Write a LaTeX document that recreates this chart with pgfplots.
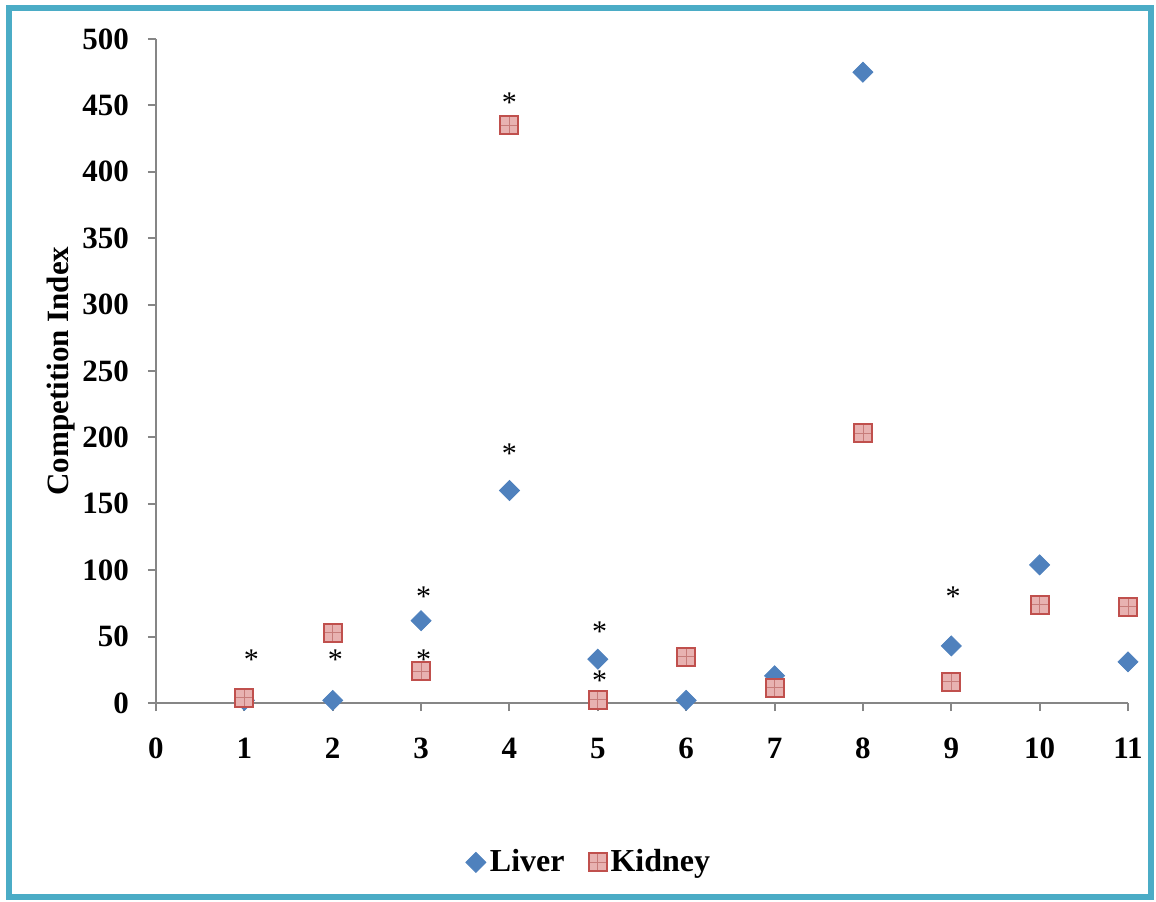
\documentclass[border=0pt]{standalone}
\usepackage{fontspec}
\setmainfont{Liberation Serif}
\usepackage{pgfplots}
\pgfplotsset{compat=1.18}
\definecolor{liver}{HTML}{4F81BD}
\definecolor{kidedge}{HTML}{C0504D}
\definecolor{kidfill}{HTML}{E8B2B1}
\definecolor{kidline}{HTML}{C77C7A}
\definecolor{frame}{HTML}{4BACC6}
\definecolor{axgray}{HTML}{868686}
\pgfdeclareplotmark{kidneysq}{%
  \pgfpathrectangle{\pgfqpoint{-\pgfplotmarksize}{-\pgfplotmarksize}}{\pgfqpoint{2\pgfplotmarksize}{2\pgfplotmarksize}}%
  \pgfusepathqfill
  \pgfsetlinewidth{0.4pt}%
  \pgfsetstrokecolor{kidline}%
  \pgfpathmoveto{\pgfqpoint{0pt}{-\pgfplotmarksize}}\pgfpathlineto{\pgfqpoint{0pt}{\pgfplotmarksize}}%
  \pgfpathmoveto{\pgfqpoint{-\pgfplotmarksize}{0pt}}\pgfpathlineto{\pgfqpoint{\pgfplotmarksize}{0pt}}%
  \pgfusepathqstroke
  \pgfsetlinewidth{1pt}%
  \pgfsetstrokecolor{kidedge}%
  \pgfpathrectangle{\pgfqpoint{-\pgfplotmarksize}{-\pgfplotmarksize}}{\pgfqpoint{2\pgfplotmarksize}{2\pgfplotmarksize}}%
  \pgfusepathqstroke
}
\begin{document}
\begin{tikzpicture}
\useasboundingbox (-78pt,-99pt) rectangle (500pt,351.5pt);
\draw[frame, line width=3pt] (-73.5pt,-97pt) rectangle (497.5pt,347.5pt);
\begin{axis}[
  at={(0pt,0pt)}, anchor=origin,
  scale only axis, width=486pt, height=332pt,
  xmin=0, xmax=11, ymin=0, ymax=500,
  xtick={0,1,...,11}, ytick={0,50,...,500},
  axis x line=bottom, axis y line=left,
  axis line style={draw=axgray, line width=1pt, -},
  tick style={draw=axgray, line width=1pt},
  tick align=outside, major tick length=4pt,
  /pgf/number format/assume math mode=true,
  ticklabel style={font=\fontsize{15.5}{18}\selectfont\bfseries},
  xticklabel style={yshift=-10pt},
  yticklabel style={xshift=-6pt},
  ylabel={Competition Index},
  ylabel style={font=\fontsize{15.5}{18}\selectfont\bfseries, at={(axis description cs:-0.098,0.5)}, anchor=center},
  clip=false,
  legend style={draw=none, fill=none, legend columns=-1, at={(0.4465,-0.24)}, anchor=center,
    font=\fontsize{16}{18}\selectfont\bfseries, /tikz/every even column/.append style={column sep=10pt}},
  legend cell align=left,
]
\addplot[only marks, mark=square*, mark size=3.54pt, mark options={rotate=45, fill=liver, draw=liver}] coordinates {
(1,2) (2,2) (3,62) (4,160) (5,33) (6,2) (7,20.5) (8,475) (9,43) (10,104) (11,31)};
\addlegendentry{Liver}
\addplot[only marks, mark=kidneysq, mark size=4.5pt, mark options={fill=kidfill}] coordinates {
(1,4) (2,53) (3,24) (4,435) (5,2.5) (6,35) (7,11.5) (8,203) (9,16) (10,74) (11,72.5)};
\addlegendentry{Kidney}
\addplot[only marks, mark=text, text mark={\fontsize{15}{18}\selectfont *}, forget plot] coordinates {
(1.08,33) (2.03,33) (3.03,80) (3.03,33) (4,452) (4,188) (5.02,54) (5.02,17) (9.02,80)};
\end{axis}
\end{tikzpicture}
\end{document}
